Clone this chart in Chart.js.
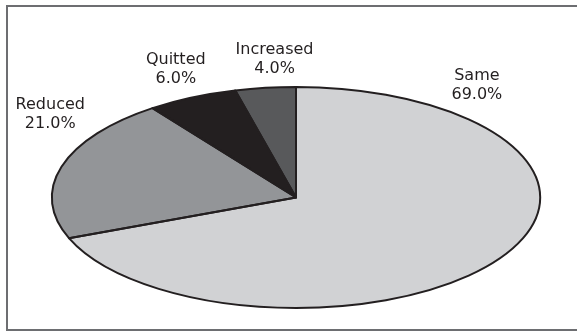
<!DOCTYPE html>
<html>
<head>
<meta charset="utf-8">
<script src="https://cdn.jsdelivr.net/npm/chart.js@4"></script>
<style>
  html, body { margin: 0; padding: 0; background: #fff; }
  #wrap { width: 577px; height: 332px; position: relative; }
</style>
</head>
<body>
<div id="wrap"><canvas id="pie" width="577" height="332"></canvas></div>
<script>
// Survey answers, clockwise from 12 o'clock
const categories = ['Same', 'Reduced', 'Quitted', 'Increased'];
const shares = [69.0, 21.0, 6.0, 4.0];
const sliceColors = ['#d1d2d4', '#939598', '#231f20', '#58595b'];

// where each label sits around the ellipse (degrees clockwise from top)
const labelAngles = [36, 307, 337, 356];

const STRETCH = 2.21;   // horizontal squash of the pie into an ellipse
const INK = '#231f20';

const ellipsePie = {
    id: 'ellipsePie',
    beforeDraw(chart) {
        const ctx = chart.ctx;
        ctx.save();
        ctx.strokeStyle = '#6d6e71';
        ctx.lineWidth = 2;
        ctx.strokeRect(7, 6, 620, 324);
        ctx.restore();
    },
    beforeDatasetsDraw(chart) {
        const arc = chart.getDatasetMeta(0).data[0];
        const ctx = chart.ctx;
        ctx.save();
        ctx.translate(arc.x, arc.y);
        ctx.scale(STRETCH, 1);
        ctx.translate(-arc.x, -arc.y);
    },
    afterDatasetsDraw(chart) {
        const ctx = chart.ctx;
        ctx.restore();
        const arcs = chart.getDatasetMeta(0).data;

        // outlines drawn unscaled so the stroke stays even all round
        ctx.save();
        ctx.strokeStyle = INK;
        ctx.lineWidth = 2;
        ctx.lineJoin = 'round';
        arcs.forEach(a => {
            ctx.beginPath();
            ctx.moveTo(a.x, a.y);
            ctx.ellipse(a.x, a.y, a.outerRadius * STRETCH, a.outerRadius, 0, a.startAngle, a.endAngle);
            ctx.closePath();
            ctx.stroke();
        });

        // category + percentage labels outside the rim
        ctx.fillStyle = INK;
        ctx.font = '16px "DejaVu Sans"';
        ctx.textAlign = 'center';
        ctx.textBaseline = 'middle';
        arcs.forEach((a, i) => {
            const t = labelAngles[i] * Math.PI / 180;
            const k = 1.26;
            const lx = a.x + Math.sin(t) * a.outerRadius * STRETCH * k;
            const ly = a.y - Math.cos(t) * a.outerRadius * k;
            ctx.fillText(categories[i], lx, ly - 9);
            ctx.fillText(shares[i].toFixed(1) + '%', lx, ly + 10);
        });
        ctx.restore();
    }
};

new Chart(document.getElementById('pie'), {
    type: 'pie',
    data: {
        labels: categories,
        datasets: [{
            data: shares,
            backgroundColor: sliceColors,
            borderWidth: 0
        }]
    },
    options: {
        responsive: false,
        animation: false,
        layout: { padding: { left: 15, right: 0, top: 87, bottom: 24 } },
        plugins: {
            legend: { display: false },
            tooltip: { enabled: false }
        }
    },
    plugins: [ellipsePie]
});
</script>
</body>
</html>
